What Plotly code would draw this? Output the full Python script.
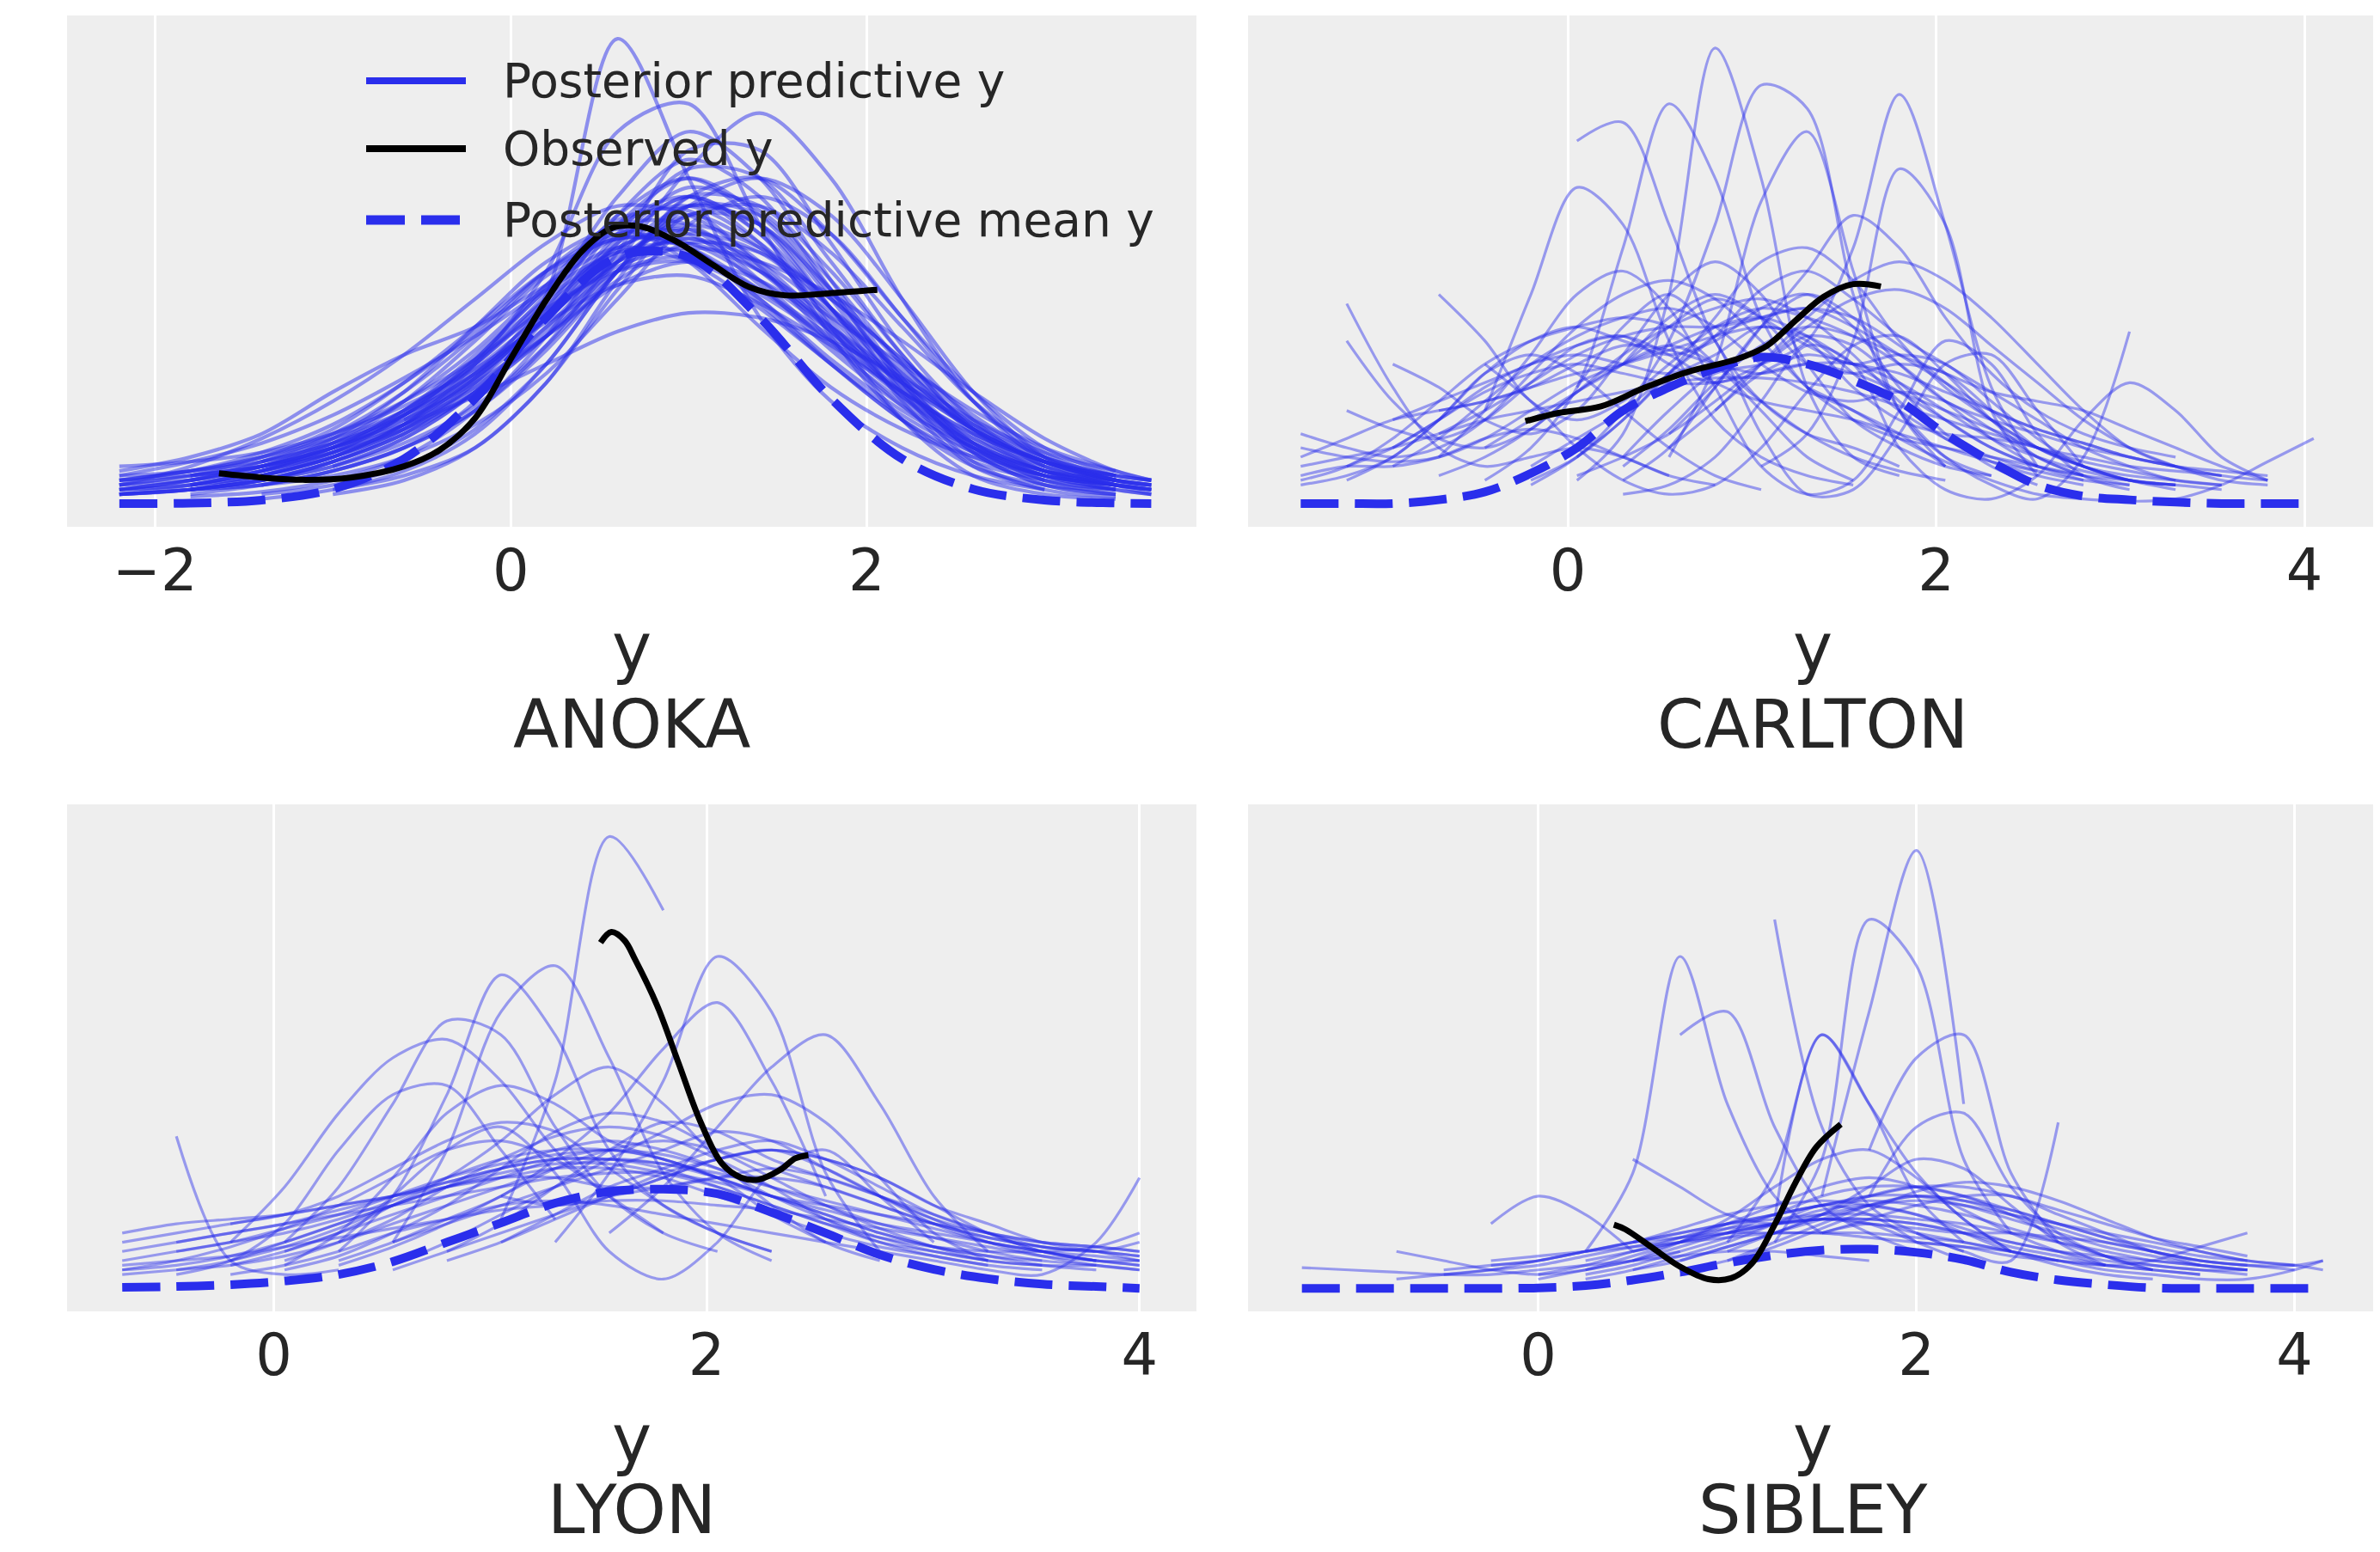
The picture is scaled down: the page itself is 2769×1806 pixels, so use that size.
import plotly.graph_objects as go

BLUE = "#2a2eec"
TEXT = "#262626"
FONT = "DejaVu Sans"

# ---------------- ANOKA ----------------
anoka_grid = [-2.2, -1.8, -1.4, -1.0, -0.6, -0.2, 0.2, 0.6, 1.0, 1.4, 1.8, 2.2, 2.6, 3.0, 3.4, 3.6]
anoka_pp = [
    (-2.2, [3, 5, 8, 13, 20, 30, 43, 55, 59, 48, 34, 22, 12, 6, 4, 3]),
    (-1.8, [4, 6, 10, 17, 27, 40, 56, 66, 58, 42, 26, 13, 6, 3]),
    (-2.2, [5, 7, 11, 17, 26, 37, 50, 58, 55, 44, 30, 18, 9, 5, 3]),
    (-1.4, [5, 9, 15, 24, 37, 52, 62, 55, 40, 25, 14, 7, 4, 3]),
    (-2.2, [2, 4, 7, 12, 19, 30, 45, 62, 70, 60, 42, 25, 12, 5, 2]),
    (-2.2, [6, 7, 10, 15, 22, 31, 42, 50, 52, 45, 35, 24, 15, 9, 6, 5]),
    (-1.8, [3, 5, 9, 16, 27, 44, 66, 80, 70, 48, 27, 12, 5]),
    (-2.2, [4, 6, 9, 14, 22, 33, 47, 58, 58, 47, 33, 21, 12, 7, 5, 4]),
    (-1.0, [8, 14, 24, 38, 52, 57, 50, 38, 26, 16, 9, 5]),
    (-2.2, [3, 5, 9, 15, 24, 36, 50, 60, 60, 50, 37, 24, 14, 8, 5]),
    (-1.8, [6, 8, 12, 18, 26, 36, 47, 52, 48, 38, 27, 16, 9, 6, 5]),
    (-2.2, [2, 3, 5, 9, 15, 26, 42, 62, 74, 66, 46, 26, 11, 4, 2]),
    (-1.4, [7, 11, 19, 31, 46, 57, 55, 43, 30, 19, 11, 6]),
    (-2.2, [5, 6, 8, 11, 16, 24, 36, 50, 58, 54, 42, 29, 17, 9, 5, 4]),
    (-1.8, [4, 7, 12, 20, 31, 44, 54, 54, 44, 31, 20, 12, 7]),
    (-2.2, [3, 4, 6, 10, 17, 30, 50, 80, 86, 60, 36, 18, 8, 4, 3]),
    (-0.6, [18, 27, 40, 53, 59, 51, 37, 23, 13, 7, 5, 4]),
    (-2.2, [8, 9, 11, 15, 21, 29, 39, 47, 49, 43, 34, 24, 15, 9, 6]),
    (-1.8, [5, 8, 14, 24, 38, 52, 59, 52, 38, 25, 16, 10, 6, 4]),
    (-2.2, [2, 3, 6, 10, 16, 26, 40, 57, 68, 63, 48, 30, 15, 7, 3, 2]),
    (-1.4, [9, 13, 19, 28, 40, 52, 57, 52, 41, 28, 16, 8]),
    (-2.2, [4, 5, 7, 11, 17, 25, 36, 48, 56, 54, 44, 31, 18, 10, 6, 5]),
    (-1.8, [3, 6, 11, 19, 31, 47, 61, 63, 51, 35, 21, 11, 6, 4]),
    (-1.8, [2, 4, 7, 12, 22, 45, 100, 70, 40, 22, 12, 6, 3]),
    (-1.4, [6, 10, 16, 25, 38, 50, 53, 46, 36, 26, 17, 10, 6]),
    (-2.2, [5, 7, 10, 14, 20, 30, 44, 60, 66, 56, 39, 23, 12, 6, 4, 3]),
    (-1.8, [4, 7, 13, 22, 35, 49, 57, 55, 46, 35, 23, 13, 7, 4]),
    (-2.2, [2, 3, 5, 8, 14, 24, 40, 60, 70, 62, 45, 27, 13, 6, 3, 2]),
    (-2.2, [7, 10, 15, 24, 32, 38, 47, 55, 52, 42, 30, 18, 10, 5, 3]),
    (-1.0, [3, 6, 12, 26, 48, 66, 64, 50, 32, 16, 7, 4]),
    (-1.4, [8, 12, 17, 23, 30, 37, 41, 40, 35, 27, 18, 11, 7]),
    (-2.2, [4, 8, 14, 22, 32, 44, 56, 64, 62, 52, 38, 24, 13, 7, 4, 3]),
    (-2.2, [2, 3, 4, 6, 10, 17, 28, 44, 60, 66, 58, 40, 22, 10, 5, 4]),
    (-1.8, [3, 5, 9, 15, 24, 36, 52, 72, 84, 70, 44, 22, 9, 4]),
    (-2.2, [6, 9, 13, 19, 27, 36, 46, 54, 56, 50, 40, 30, 20, 12, 7, 5]),
    (-1.4, [4, 7, 12, 20, 33, 50, 66, 70, 58, 40, 24, 12, 6]),
    (-2.2, [3, 5, 8, 12, 18, 28, 40, 52, 62, 64, 54, 38, 22, 11, 5, 3]),
    (-1.8, [6, 10, 16, 26, 38, 50, 57, 56, 48, 37, 26, 16, 9, 5]),
    (-2.2, [2, 3, 5, 8, 13, 21, 34, 50, 64, 70, 62, 44, 24, 10, 4, 2]),
    (-1.0, [12, 20, 32, 46, 60, 64, 56, 42, 28, 16, 9, 5]),
    (-2.2, [5, 7, 9, 13, 19, 28, 40, 54, 64, 60, 46, 30, 17, 9, 5, 4]),
    (-1.8, [3, 4, 7, 12, 20, 34, 54, 76, 76, 56, 34, 18, 8, 4]),
    (-2.2, [4, 6, 8, 12, 19, 29, 41, 51, 55, 52, 45, 35, 24, 14, 7, 5]),
    (-1.4, [6, 10, 17, 28, 42, 55, 60, 55, 44, 31, 19, 10, 5]),
    (-2.2, [3, 4, 7, 11, 17, 27, 41, 58, 72, 70, 52, 32, 16, 8, 4, 3]),
    (-1.4, [2, 4, 8, 16, 30, 50, 64, 62, 46, 26, 11, 4, 2]),
    (-1.0, [2, 5, 12, 26, 46, 62, 60, 44, 24, 9, 3, 1.5]),
    (-1.8, [1.5, 2.5, 5, 10, 20, 36, 56, 66, 58, 38, 18, 6, 2, 1]),
    (-1.4, [1, 3, 7, 15, 30, 50, 64, 60, 42, 22, 8, 3]),
]
anoka_mean = [0, 0.1, 0.75, 3.1, 9.6, 22.6, 40, 53, 53, 40, 22.6, 9.6, 3.1, 0.75, 0.1, 0]
anoka_obs_x = [-1.64, -1.4, -1.17, -0.9, -0.6, -0.4, -0.2, 0.0, 0.2, 0.4, 0.57, 0.73, 0.93, 1.13, 1.34, 1.54, 1.78, 2.06]
anoka_obs_y = [6.5, 5.6, 5.1, 5.6, 8.0, 11.5, 18.4, 31.1, 43.8, 54.3, 59.3, 59.6, 56.4, 51.5, 46.6, 44.8, 45.2, 46.0]

# ---------------- CARLTON ----------------
carlton_grid = [-1.45, -1.2, -0.95, -0.7, -0.45, -0.2, 0.05, 0.3, 0.55, 0.8, 1.05, 1.3, 1.55,
                1.8, 2.05, 2.3, 2.55, 2.8, 3.05, 3.3, 3.55, 3.8, 4.05]
carlton_pp = [
    (0.05, [5, 15, 45, 98, 70, 25, 10, 6]),
    (-0.2, [4, 10, 20, 35, 60, 90, 85, 45, 20, 10, 6]),
    (0.3, [10, 20, 28, 30, 35, 55, 88, 60, 25, 8]),
    (0.05, [78, 82, 60, 35, 22, 15, 12, 8]),
    (-0.45, [5, 12, 25, 55, 86, 70, 40, 25, 20, 15, 8]),
    (-1.2, [43, 25, 12, 8, 10, 12, 10, 6, 4]),
    (-1.45, [8, 10, 12, 15, 18, 20, 22, 24, 26, 27, 27, 26, 24, 21, 18, 15, 12, 10, 8, 7, 6]),
    (-0.95, [12, 18, 25, 30, 32, 30, 28, 32, 38, 35, 25, 18, 15, 14, 12, 8, 5, 4]),
    (-0.7, [10, 20, 32, 45, 50, 42, 25, 8, 2, 5, 20, 35, 30, 15, 6, 3]),
    (-1.45, [15, 12, 10, 12, 18, 28, 38, 45, 48, 44, 35, 25, 18, 14, 12, 10, 8, 6]),
    (0.3, [5, 12, 25, 38, 45, 40, 30, 22, 18, 15, 12, 10, 8, 7, 6]),
    (1.3, [25, 20, 14, 9, 5, 2, 1, 0.5, 1, 4, 9, 14]),
    (1.05, [8, 15, 35, 72, 60, 20, 6]),
    (-1.45, [5, 8, 14, 22, 30, 35, 38, 40, 38, 30, 20, 10, 5]),
    (-0.2, [5, 10, 18, 28, 40, 52, 55, 48, 35, 25, 18, 12, 8, 5, 3]),
    (-0.95, [30, 25, 18, 15, 20, 32, 45, 52, 45, 30, 18, 12, 8, 6]),
    (-1.2, [5, 10, 18, 28, 35, 38, 35, 32, 35, 42, 45, 38, 25, 15, 8, 4]),
    (0.05, [25, 38, 45, 35, 15, 2, 3, 15, 30, 32, 20, 8]),
    (0.3, [30, 40, 45, 40, 30, 28, 30, 28, 20, 12, 8, 6, 5, 4]),
    (0.55, [10, 30, 65, 80, 50, 20, 8]),
    (-1.45, [4, 6, 10, 18, 28, 32, 28, 20, 12, 6, 3]),
    (1.8, [20, 10, 4, 1, 10, 37]),
    (-0.7, [20, 22, 25, 28, 30, 33, 36, 38, 36, 30, 24, 18, 12, 8, 5]),
    (-0.45, [20, 45, 68, 60, 35, 18, 10, 6, 4]),
    (0.8, [20, 28, 32, 30, 28, 24, 20, 16, 13, 10, 8, 6, 5]),
    (-1.45, [6, 8, 8, 10, 14, 16, 14, 10, 6]),
    (-1.2, [35, 22, 14, 12, 16, 24, 30, 34, 30, 22, 15, 10, 7, 5]),
    (-0.7, [45, 35, 22, 18, 22, 30, 38, 42, 40, 36, 30, 22, 14, 8]),
    (0.55, [15, 25, 38, 50, 62, 55, 40, 28, 20, 15, 12, 10]),
    (-1.45, [10, 14, 18, 20, 22, 25, 30, 34, 33, 30, 28, 30, 30, 26, 20, 14, 10, 7, 5, 4, 3]),
    (-0.95, [8, 14, 22, 30, 36, 40, 42, 38, 30, 24, 22, 24, 22, 16, 10, 6, 4]),
    (-0.45, [12, 18, 24, 30, 38, 44, 40, 34, 30, 32, 30, 22, 14, 8, 5, 4]),
    (-1.2, [20, 16, 14, 18, 26, 34, 36, 30, 26, 30, 36, 34, 26, 18, 12, 8, 6, 5]),
    (0.05, [10, 18, 28, 36, 40, 42, 38, 32, 26, 20, 16, 13, 10, 8]),
    (-0.7, [6, 10, 16, 24, 32, 38, 42, 44, 40, 32, 22, 14, 9, 6, 4]),
    (-1.45, [12, 10, 9, 10, 14, 20, 26, 30, 34, 38, 40, 36, 28, 20, 14, 10, 7, 5, 4]),
    (0.3, [8, 16, 26, 34, 38, 36, 32, 28, 24, 22, 20, 16, 12, 8, 5]),
    (-0.95, [18, 22, 26, 30, 34, 36, 32, 26, 22, 20, 18, 15, 12, 9, 7]),
    (-0.2, [8, 14, 20, 28, 36, 46, 50, 44, 36, 30, 24, 18, 12, 8, 5, 4]),
    (-1.2, [8, 12, 18, 24, 28, 30, 28, 26, 26, 28, 30, 28, 24, 20, 16, 12, 9, 7, 5]),
    (0.55, [12, 20, 30, 40, 48, 52, 48, 40, 30, 20, 12, 8, 6]),
    (-0.7, [15, 20, 26, 32, 36, 38, 38, 40, 42, 40, 34, 26, 18, 12, 8, 5, 4]),
    (0.05, [6, 10, 15, 22, 30, 38, 44, 46, 42, 34, 26, 18, 12, 8, 5, 4]),
    (-0.45, [30, 22, 12, 5, 2, 4, 12, 24, 34, 36, 28, 18, 10, 6]),
    (0.3, [2, 4, 10, 22, 34, 30, 12, 3, 1, 6, 18, 26, 20, 10, 5]),
]
carlton_mean = [0, 0, 0, 0.8, 2.5, 6.5, 12, 20, 25, 29, 31.5, 30, 26.5, 22, 15, 9, 4, 1.6, 0.8, 0.3, 0, 0, 0]
carlton_obs_x = [-0.23, -0.05, 0.18, 0.41, 0.65, 0.92, 1.08, 1.24, 1.39, 1.55, 1.70]
carlton_obs_y = [17.7, 19.5, 20.9, 24.8, 28.3, 31.1, 33.9, 39.5, 44.5, 47.2, 46.7]

# ---------------- LYON ----------------
lyon_grid = [-0.7, -0.45, -0.2, 0.05, 0.3, 0.55, 0.8, 1.05, 1.3, 1.55, 1.8, 2.05, 2.3, 2.55,
             2.8, 3.05, 3.3, 3.55, 3.8, 4.0]
lyon_pp = [
    (1.05, [15, 45, 98, 82]),
    (-0.45, [33, 6, 3, 4]),
    (0.3, [8, 20, 42, 68, 55, 30, 18, 12, 8]),
    (1.3, [10, 25, 45, 72, 60, 25, 8]),
    (0.05, [10, 22, 40, 58, 55, 35, 20, 12, 8]),
    (0.55, [10, 30, 60, 70, 50, 25, 12, 6]),
    (1.55, [12, 22, 35, 48, 55, 40, 20, 8]),
    (-0.2, [10, 22, 38, 50, 54, 45, 30, 20]),
    (-0.7, [5, 6, 7, 9, 11, 13, 15, 17, 18, 19, 19, 18, 17, 15, 13, 11, 9, 7, 6, 5]),
    (-0.7, [8, 10, 12, 14, 16, 18, 20, 22, 24, 25, 25, 23, 20, 16, 12, 9, 7, 6]),
    (-0.45, [4, 6, 10, 14, 18, 22, 26, 30, 32, 30, 26, 20, 15, 11, 8, 6, 5, 5]),
    (-0.2, [3, 5, 8, 12, 15, 18, 19, 18, 16, 14, 12, 10, 8, 6, 4, 3, 10, 24]),
    (0.05, [6, 10, 15, 22, 28, 33, 35, 33, 28, 22, 15, 10, 7, 5]),
    (0.3, [10, 20, 30, 35, 25, 8, 2, 10, 25, 30, 20, 10]),
    (0.55, [4, 8, 12, 16, 20, 24, 28, 30, 28, 24, 18, 12, 8, 6]),
    (-0.7, [10, 12, 14, 16, 20, 26, 32, 36, 34, 26, 18, 12, 8]),
    (1.05, [10, 16, 22, 26, 30, 32, 28, 22, 16, 12, 9, 8, 7]),
    (-0.2, [5, 8, 12, 18, 24, 32, 42, 48, 40, 28, 18, 10, 6]),
    (0.3, [6, 10, 15, 20, 28, 38, 52, 62, 45, 20]),
    (-0.7, [4, 6, 9, 13, 18, 24, 30, 32, 28, 20, 12]),
    (1.55, [20, 22, 24, 24, 22, 18, 14, 11, 9, 8, 10]),
    (0.05, [5, 12, 24, 38, 44, 40, 32, 28, 24, 16, 10]),
    (0.55, [5, 10, 16, 22, 28, 34, 40, 42, 36, 24, 12, 6]),
    (-0.45, [3, 6, 14, 30, 42, 44, 30, 15]),
    (0.8, [8, 14, 22, 30, 36, 34, 28, 24, 20, 16, 12, 8, 6, 5]),
    (-0.7, [3, 4, 5, 7, 10, 14, 18, 22, 26, 28, 27, 24, 20, 16, 12, 9, 7, 5, 4]),
    (-0.7, [6, 8, 10, 13, 16, 20, 24, 27, 29, 30, 29, 26, 22, 18, 14, 11, 8, 6, 5, 4]),
    (-0.45, [10, 12, 14, 17, 20, 23, 26, 28, 28, 27, 25, 22, 19, 16, 13, 10, 8, 6]),
    (0.05, [8, 12, 16, 20, 24, 28, 30, 28, 24, 20, 18, 16, 14, 12, 10, 9, 8]),
    (-0.7, [12, 14, 15, 16, 18, 20, 23, 26, 28, 28, 26, 22, 18, 14, 10, 8, 6]),
    (0.3, [5, 9, 14, 20, 26, 30, 32, 30, 26, 22, 18, 14, 11, 9, 8, 7]),
    (-0.2, [6, 9, 13, 18, 22, 24, 24, 22, 22, 24, 26, 24, 20, 15, 10, 7, 5, 4]),
    (-0.7, [4, 5, 7, 10, 14, 18, 22, 25, 27, 27, 25, 22, 18, 14, 11, 9, 8, 8, 9, 12]),
    (0.55, [10, 14, 18, 22, 26, 30, 34, 32, 26, 20, 15, 12, 10, 9, 8]),
    (0.05, [4, 7, 12, 18, 26, 34, 38, 36, 30, 24, 18, 13, 9, 6, 5]),
    (-0.45, [8, 10, 12, 15, 19, 24, 28, 30, 30, 28, 24, 20, 17, 14, 12, 10, 8, 7, 6]),
    (0.8, [6, 10, 15, 20, 25, 28, 30, 28, 24, 18, 14, 10, 8, 6]),
    (-0.2, [14, 16, 18, 20, 22, 24, 26, 26, 24, 20, 16, 12, 9, 7, 5, 4]),
    (1.05, [20, 18, 20, 24, 28, 30, 26, 20, 14, 10, 8, 6, 6]),
]
lyon_mean = [0.2, 0.4, 0.8, 1.6, 3.0, 5.8, 10, 14.2, 18.5, 21, 21.5, 20.5, 16.5, 12, 7.3, 4.1, 2.1, 0.9, 0.4, 0]
lyon_obs_x = [1.51, 1.56, 1.62, 1.67, 1.77, 1.87, 1.97, 2.07, 2.16, 2.24, 2.34, 2.41, 2.47]
lyon_obs_y = [75, 77.3, 75.5, 71.3, 61.5, 48.9, 36.3, 27.1, 24, 23.6, 25.7, 28.2, 28.9]

# ---------------- SIBLEY ----------------
sibley_grid = [-1.25, -1.0, -0.75, -0.5, -0.25, 0.0, 0.25, 0.5, 0.75, 1.0, 1.25, 1.5, 1.75,
               2.0, 2.25, 2.5, 2.75, 3.0, 3.25, 3.5, 3.75, 4.0, 4.15]
sibley_pp = [
    (1.5, [20, 60, 95, 40]),
    (1.25, [10, 28, 80, 70, 28, 12]),
    (1.25, [80, 35, 18, 12, 8]),
    (0.25, [8, 25, 72, 40, 20, 12]),
    (0.75, [55, 60, 35, 18, 12, 8]),
    (1.25, [15, 55, 40, 25, 15, 8]),
    (1.75, [30, 50, 55, 25, 10]),
    (2.0, [12, 8, 6, 36]),
    (-0.25, [14, 20, 16, 8]),
    (-0.75, [8, 6, 4, 3, 4, 6, 8]),
    (-1.25, [4.5, 4, 3.5, 3, 3, 4, 5, 6, 7, 8, 8, 7, 6]),
    (2.0, [10, 9, 8, 6, 4, 3, 2, 2, 4, 6]),
    (1.5, [12, 14, 12, 10, 8, 6, 5, 6, 9, 12]),
    (0.0, [2, 4, 6, 9, 12, 14, 15, 15, 14, 12, 9, 7, 5, 4, 3]),
    (0.25, [3, 5, 8, 11, 14, 17, 18, 16, 12, 8, 5, 3, 2]),
    (0.5, [6, 10, 14, 18, 22, 24, 22, 17, 12, 8, 5]),
    (-0.5, [3, 4, 6, 8, 10, 11, 12, 12, 12, 11, 10, 9, 7, 6, 5, 4, 3]),
    (0.75, [10, 15, 22, 28, 30, 24, 15, 8]),
    (1.0, [8, 12, 16, 22, 28, 26, 18, 10, 5]),
    (0.5, [28, 22, 16, 14, 15, 14, 10, 6]),
    (1.5, [12, 15, 18, 20, 20, 16, 12, 8, 5]),
    (0.25, [2, 4, 7, 10, 14, 18, 16, 10]),
    (1.0, [10, 25, 55, 40, 20, 10]),
    (1.75, [20, 35, 38, 22, 12, 7, 4]),
    (-0.25, [6, 7, 8, 9, 10, 11, 12, 12, 12, 11, 10, 8, 6]),
    (0.5, [4, 6, 9, 12, 16, 20, 22, 20, 16, 11, 7, 4]),
    (1.0, [6, 10, 14, 18, 20, 19, 17, 14, 11, 8, 6, 5, 5, 6]),
    (0.0, [3, 5, 8, 11, 14, 16, 18, 19, 18, 16, 13, 10, 7, 5, 4, 3]),
    (-0.5, [4, 5, 6, 8, 10, 13, 16, 18, 19, 18, 16, 13, 10, 8, 6, 5, 4, 4]),
    (0.25, [4, 7, 10, 13, 16, 18, 20, 20, 18, 15, 12, 9, 7, 5, 4]),
    (0.5, [8, 10, 12, 14, 16, 18, 19, 18, 16, 14, 12, 10, 8, 6, 5]),
    (-0.25, [5, 6, 8, 10, 12, 14, 15, 16, 16, 15, 14, 12, 10, 8, 6, 5, 4]),
    (0.75, [6, 9, 12, 15, 18, 20, 19, 16, 13, 10, 8, 6, 5, 4]),
    (0.25, [6, 8, 10, 12, 14, 15, 14, 13, 12, 12, 11, 10, 8, 6, 5]),
    (1.0, [12, 16, 20, 22, 22, 20, 17, 14, 11, 9, 7, 6]),
    (-0.75, [2, 3, 4, 5, 7, 9, 11, 13, 14, 15, 15, 14, 12, 10, 8, 7, 6, 5, 4]),
    (0.5, [10, 12, 14, 16, 18, 20, 22, 22, 20, 17, 14, 11, 9, 7]),
    (0.75, [4, 6, 9, 13, 17, 21, 23, 22, 19, 15, 11, 8, 6, 5, 4]),
]
sibley_mean = [0, 0, 0, 0, 0, 0.1, 0.6, 1.8, 3.5, 5.5, 7.2, 8.3, 8.5, 7.8, 6.2, 3.5, 1.8, 0.8, 0.1, 0, 0, 0, 0]
sibley_obs_x = [0.40, 0.46, 0.60, 0.75, 0.90, 1.02, 1.13, 1.25, 1.36, 1.47, 1.60]
sibley_obs_y = [13.8, 12.8, 8.9, 4.7, 2.0, 2.2, 5.4, 13.8, 22.9, 30.6, 35.6]

county_names = ["ANOKA", "CARLTON", "LYON", "SIBLEY"]
x_ranges = [[-2.494, 3.854], [-1.736, 4.396], [-0.955, 4.263], [-1.535, 4.438]]
tick_vals = [[-2, 0, 2], [0, 2, 4], [0, 2, 4], [0, 2, 4]]
tick_text = [["\u22122", "0", "2"], ["0", "2", "4"], ["0", "2", "4"], ["0", "2", "4"]]
pp_color = ["rgba(42,46,236,0.5)", "rgba(42,46,236,0.45)", "rgba(42,46,236,0.45)", "rgba(42,46,236,0.45)"]
pp_width = [4.2, 3.2, 3.2, 3.2]

# layout geometry: page pixels of the reference, minus the 8px default body margin
OFF = 8
W, H = 2769 - OFF, 1806 - OFF
col_px = [(78 - OFF, 1392 - OFF), (1452 - OFF, 2766 - OFF)]
row_px = [(18 - OFF, 613 - OFF), (936 - OFF, 1526 - OFF)]

panels = [
    (anoka_grid, anoka_pp, anoka_mean, anoka_obs_x, anoka_obs_y),
    (carlton_grid, carlton_pp, carlton_mean, carlton_obs_x, carlton_obs_y),
    (lyon_grid, lyon_pp, lyon_mean, lyon_obs_x, lyon_obs_y),
    (sibley_grid, sibley_pp, sibley_mean, sibley_obs_x, sibley_obs_y),
]


def segment(grid, start, vals):
    i = grid.index(start)
    xs = grid[i:i + len(vals)]
    assert len(xs) == len(vals), (start, len(vals))
    return xs, vals


fig = go.Figure()
layout_axes = {}
for k, (grid, pp, mean, ox, oy) in enumerate(panels):
    n = k + 1
    xa = "x" if n == 1 else f"x{n}"
    ya = "y" if n == 1 else f"y{n}"
    for start, vals in pp:
        xs, ys = segment(grid, start, vals)
        fig.add_trace(go.Scatter(x=xs, y=ys, mode="lines", xaxis=xa, yaxis=ya,
                                 line=dict(color=pp_color[k], width=pp_width[k],
                                           shape="spline", smoothing=0.9),
                                 hoverinfo="skip", showlegend=False))
    fig.add_trace(go.Scatter(x=grid, y=mean, mode="lines", xaxis=xa, yaxis=ya,
                             line=dict(color=BLUE, width=10, dash="44px,19px", shape="spline"),
                             hoverinfo="skip", showlegend=False))
    fig.add_trace(go.Scatter(x=ox, y=oy, mode="lines", xaxis=xa, yaxis=ya,
                             line=dict(color="black", width=7, shape="spline"),
                             hoverinfo="skip", showlegend=False))

    c = k % 2
    r = k // 2
    x0, x1 = col_px[c]
    y0, y1 = row_px[r]
    xdom = [x0 / W, x1 / W]
    ydom = [1 - y1 / H, 1 - y0 / H]
    kx = "xaxis" if n == 1 else f"xaxis{n}"
    ky = "yaxis" if n == 1 else f"yaxis{n}"
    layout_axes[kx] = dict(domain=xdom, range=x_ranges[k], anchor=ya,
                           tickvals=tick_vals[k], ticktext=tick_text[k],
                           showgrid=True, gridcolor="white", gridwidth=2.5,
                           zeroline=False, showline=False, ticks="",
                           ticklabelstandoff=6,
                           tickfont=dict(family=FONT, size=67, color=TEXT))
    layout_axes[ky] = dict(domain=ydom, range=[-5, 105], anchor=xa,
                           showgrid=False, zeroline=False, showline=False,
                           showticklabels=False, ticks="")

annotations = []
shapes = []
label_y_px = [(746, 835), (1667, 1749)]
for k, name in enumerate(county_names):
    c = k % 2
    r = k // 2
    xc = (col_px[c][0] + col_px[c][1]) / 2 / W
    yl, yn = label_y_px[r]
    annotations.append(dict(text="y", x=xc, y=1 - yl / H, xref="paper", yref="paper",
                            xanchor="center", yanchor="middle", showarrow=False,
                            font=dict(family=FONT, size=78, color=TEXT)))
    annotations.append(dict(text=name, x=xc, y=1 - yn / H, xref="paper", yref="paper",
                            xanchor="center", yanchor="middle", showarrow=False,
                            font=dict(family=FONT, size=78, color=TEXT)))

# legend (drawn manually to match the long matplotlib handles)
legend_labels = ["Posterior predictive y", "Observed y", "Posterior predictive mean y"]
legend_rows_px = [94 - OFF, 173 - OFF, 256 - OFF]
legend_styles = [dict(color=BLUE, width=8), dict(color="black", width=8),
                 dict(color=BLUE, width=11, dash="45px,19px")]
hx0, hx1, tx = (426 - OFF) / W, (542 - OFF) / W, (583 - OFF) / W
for lab, ypx, st in zip(legend_labels, legend_rows_px, legend_styles):
    yy = 1 - ypx / H
    shapes.append(dict(type="line", xref="paper", yref="paper", x0=hx0, x1=hx1, y0=yy, y1=yy,
                       line=st, layer="above"))
    annotations.append(dict(text=lab, x=tx, y=yy, xref="paper", yref="paper",
                            xanchor="left", yanchor="middle", showarrow=False,
                            font=dict(family=FONT, size=55, color=TEXT)))

fig.update_layout(
    width=W, height=H,
    margin=dict(l=0, r=0, t=0, b=0),
    paper_bgcolor="white",
    plot_bgcolor="#eeeeee",
    showlegend=False,
    annotations=annotations,
    shapes=shapes,
    font=dict(family=FONT, color=TEXT),
    **layout_axes,
)

fig.write_html("out.html")
